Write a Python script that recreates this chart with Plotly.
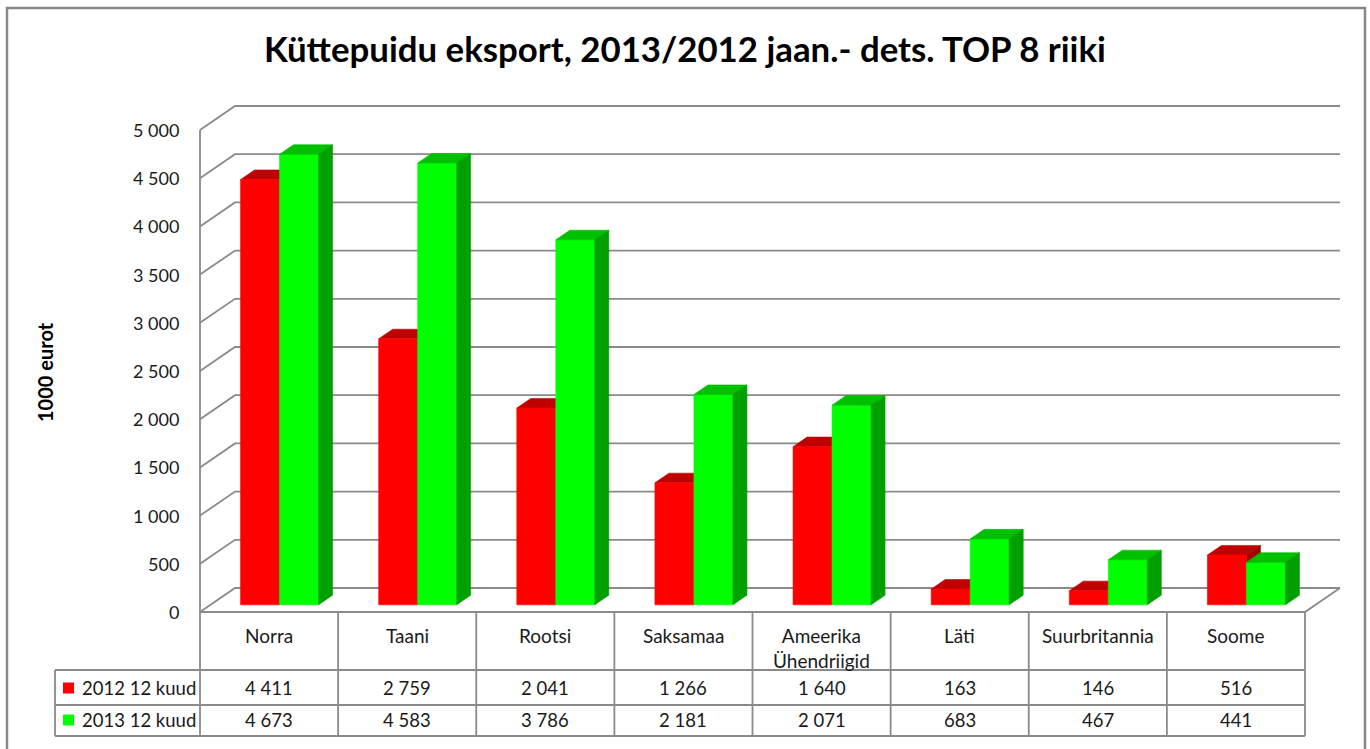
import plotly.graph_objects as go

# ---------------- data ----------------
categories = ["Norra", "Taani", "Rootsi", "Saksamaa", "Ameerika<br>Ühendriigid",
              "Läti", "Suurbritannia", "Soome"]
series_names = ["2012 12 kuud", "2013 12 kuud"]
values_2012 = [4411, 2759, 2041, 1266, 1640, 163, 146, 516]
values_2013 = [4673, 4583, 3786, 2181, 2071, 683, 467, 441]
y_ticks = [0, 500, 1000, 1500, 2000, 2500, 3000, 3500, 4000, 4500, 5000]
title_text = "Küttepuidu eksport, 2013/2012 jaan.- dets. TOP 8 riiki"
y_title = "1000 eurot"

# ---------------- geometry / style ----------------
W, H = 1370, 749
PX_LEFT = 200.0            # pixel of front-left wall edge
CAT_W = 1105.0 / 8         # pixel width of one category
PY_ZERO = 612.0            # pixel of value 0 on the front plane
PX_PER_UNIT = 482.0 / 5000
DEPTH_PX = (35.0, 24.0)    # oblique depth offset (right, up)

FONT = "Lato"
GRID = "#8a8a8a"
TEXT = "#1a1a1a"
RED = ("#FF0000", "#C00000", "#A00000")     # front, top, side
GREEN = ("#00FF00", "#00C000", "#00A000")


def xd(px):
    return (px - PX_LEFT) / CAT_W - 0.5


def yd(py):
    return (PY_ZERO - py) / PX_PER_UNIT


DX = DEPTH_PX[0] / CAT_W
DV = DEPTH_PX[1] / PX_PER_UNIT
N = len(categories)
X_LEFT, X_RIGHT = -0.5, N - 0.5

fig = go.Figure()

# ---------------- walls & gridlines ----------------
gx, gy = [], []
for v in y_ticks:
    gx += [X_LEFT, X_LEFT + DX, X_RIGHT + DX, None]
    gy += [v, v + DV, v + DV, None]
# front-left vertical edge
gx += [X_LEFT, X_LEFT, None]
gy += [0, max(y_ticks), None]
# floor front and right edges
gx += [X_LEFT, X_RIGHT, X_RIGHT + DX, None]
gy += [0, 0, DV, None]
fig.add_trace(go.Scatter(x=gx, y=gy, mode="lines",
                         line=dict(color=GRID, width=1.8),
                         hoverinfo="skip", showlegend=False))

# ---------------- 3D bars ----------------
BAR_W = 39.0 / CAT_W
F0 = 0.3      # front depth fraction of the bars
FD = 0.4      # bar depth fraction
bx, bv = F0 * DX, F0 * DV
dx, dv = FD * DX, FD * DV


def faces(vals, x_start_off):
    fr_x, fr_y, tp_x, tp_y, sd_x, sd_y = [], [], [], [], [], []
    for i, val in enumerate(vals):
        x0 = i + bx + x_start_off
        x1 = x0 + BAR_W
        y0, y1 = bv, bv + val
        fr_x += [x0, x1, x1, x0, x0, None]
        fr_y += [y0, y0, y1, y1, y0, None]
        tp_x += [x0, x1, x1 + dx, x0 + dx, x0, None]
        tp_y += [y1, y1, y1 + dv, y1 + dv, y1, None]
        sd_x += [x1, x1 + dx, x1 + dx, x1, x1, None]
        sd_y += [y0, y0 + dv, y1 + dv, y1, y0, None]
    return (fr_x, fr_y), (tp_x, tp_y), (sd_x, sd_y)


def poly(xy, color, name):
    fig.add_trace(go.Scatter(x=xy[0], y=xy[1], mode="lines", fill="toself",
                             fillcolor=color, line=dict(color=color, width=0.6),
                             hoverinfo="skip", showlegend=False, name=name))


r_front, r_top, r_side = faces(values_2012, -BAR_W)
g_front, g_top, g_side = faces(values_2013, 0.0)
poly(r_side, RED[2], series_names[0])
poly(r_top, RED[1], series_names[0])
poly(r_front, RED[0], series_names[0])
poly(g_front, GREEN[0], series_names[1])
poly(g_top, GREEN[1], series_names[1])
poly(g_side, GREEN[2], series_names[1])

# ---------------- annotations ----------------
ann = []
ann.append(dict(x=xd(685), y=yd(48), text="<b>" + title_text + "</b>",
                showarrow=False, xanchor="center", yanchor="middle",
                font=dict(family=FONT, size=34.8, color="#000000")))
ann.append(dict(x=xd(45), y=yd(372), text="<b>" + y_title + "</b>", textangle=-90,
                showarrow=False, xanchor="center", yanchor="middle",
                font=dict(family=FONT, size=20, color="#000000")))


def fmt(v):
    return f"{v:,}".replace(",", " ")


for v in y_ticks:
    ann.append(dict(x=xd(181), y=v, text=fmt(v), showarrow=False,
                    xanchor="right", yanchor="middle",
                    font=dict(family=FONT, size=18, color=TEXT)))

# ---------------- data table ----------------
shapes = []
line = dict(color=GRID, width=1.8)
ROW_TOP, ROW_MID, ROW_BOT = 670, 705, 736
LEG_LEFT = 55
for k in range(N + 1):
    xk = X_LEFT + k
    shapes.append(dict(type="line", xref="x", yref="y", x0=xk, x1=xk,
                       y0=0, y1=yd(ROW_BOT), line=line))
shapes.append(dict(type="line", xref="x", yref="y", x0=xd(LEG_LEFT), x1=xd(LEG_LEFT),
                   y0=yd(ROW_TOP), y1=yd(ROW_BOT), line=line))
for py in (ROW_TOP, ROW_MID, ROW_BOT):
    shapes.append(dict(type="line", xref="x", yref="y", x0=xd(LEG_LEFT), x1=X_RIGHT,
                       y0=yd(py), y1=yd(py), line=line))

for i, c in enumerate(categories):
    ann.append(dict(x=i, y=yd(622), text=c, showarrow=False,
                    xanchor="center", yanchor="top",
                    font=dict(family=FONT, size=19, color=TEXT)))

for vals, py, name, col in ((values_2012, 688, series_names[0], RED[0]),
                            (values_2013, 720, series_names[1], GREEN[0])):
    for i, v in enumerate(vals):
        ann.append(dict(x=i, y=yd(py), text=fmt(v), showarrow=False,
                        xanchor="center", yanchor="middle",
                        font=dict(family=FONT, size=18.5, color=TEXT)))
    ann.append(dict(x=xd(80), y=yd(py), text=name, showarrow=False,
                    xanchor="left", yanchor="middle",
                    font=dict(family=FONT, size=18.5, color=TEXT)))
    shapes.append(dict(type="rect", xref="x", yref="y",
                       x0=xd(63), x1=xd(74), y0=yd(py - 5.5), y1=yd(py + 5.5),
                       fillcolor=col, line=dict(width=0)))

# outer chart border
shapes.append(dict(type="rect", xref="x", yref="y", x0=xd(7), x1=xd(1365),
                   y0=yd(8), y1=yd(770), line=dict(color="#878787", width=2.5),
                   fillcolor="rgba(0,0,0,0)"))

fig.update_layout(
    width=W, height=H,
    margin=dict(l=0, r=0, t=0, b=0, pad=0),
    paper_bgcolor="white", plot_bgcolor="white",
    xaxis=dict(range=[xd(0), xd(W)], visible=False, fixedrange=True),
    yaxis=dict(range=[yd(H), yd(0)], visible=False, fixedrange=True),
    shapes=shapes, annotations=ann,
    showlegend=False, hovermode=False,
)

fig.write_html("out.html", config={"displayModeBar": False},
               post_script="document.body.style.margin='0';document.body.style.overflow='hidden';")
